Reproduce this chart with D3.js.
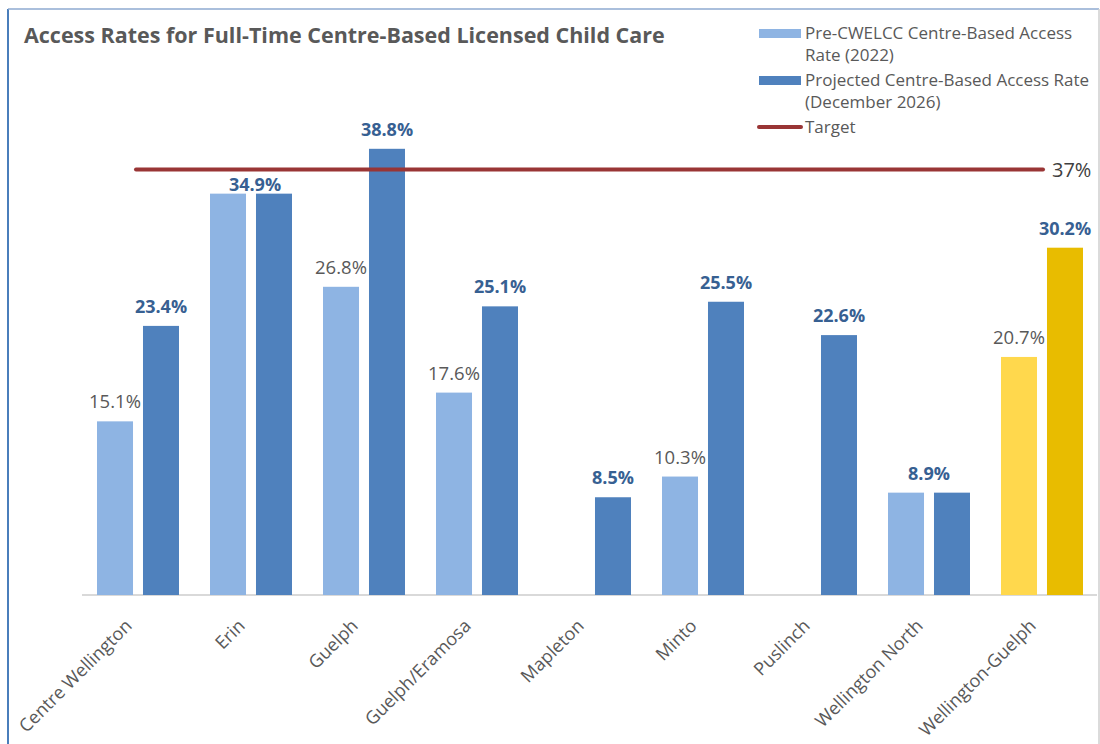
<!DOCTYPE html>
<html>
<head>
<meta charset="utf-8">
<script src="https://cdn.jsdelivr.net/npm/d3@7"></script>
<style>
  html, body { margin: 0; padding: 0; background: #ffffff; }
  svg { display: block; }
</style>
</head>
<body>
<svg id="chart" width="1100" height="744"></svg>
<script>
// ---- data ----
const categories = ["Centre Wellington", "Erin", "Guelph", "Guelph/Eramosa", "Mapleton", "Minto", "Puslinch", "Wellington North", "Wellington-Guelph"];
const preRates = [15.1, 34.9, 26.8, 17.6, null, 10.3, null, 8.9, 20.7];
const projectedRates = [23.4, 34.9, 38.8, 25.1, 8.5, 25.5, 22.6, 8.9, 30.2];
const targetRate = 37;
const highlightCategory = "Wellington-Guelph";
const seriesNames = ["Pre-CWELCC Centre-Based Access Rate (2022)", "Projected Centre-Based Access Rate (December 2026)", "Target"];
const legendLines = [["Pre-CWELCC Centre-Based Access", "Rate (2022)"], ["Projected Centre-Based Access Rate", "(December 2026)"], ["Target"]];
const titleText = "Access Rates for Full-Time Centre-Based Licensed Child Care";

// ---- styles ----
const colors = {
  pre: "#8eb4e3", proj: "#4f81bd",
  preHi: "#ffd84d", projHi: "#e8bc00",
  target: "#993535", text: "#595959", projLabel: "#376092", axis: "#d9d9d9"
};
const FONT = "'Open Sans', sans-serif";

const svg = d3.select("#chart");
const baseY = 595;

// frame
svg.append("line").attr("x1", 8).attr("x2", 8).attr("y1", 9).attr("y2", 744).attr("stroke", "#4a7ebb").attr("stroke-width", 2);
svg.append("line").attr("x1", 8).attr("x2", 1099).attr("y1", 9).attr("y2", 9).attr("stroke", "#8eaad0").attr("stroke-width", 1.5);
svg.append("line").attr("x1", 1099).attr("x2", 1099).attr("y1", 9).attr("y2", 744).attr("stroke", "#cfcfcf").attr("stroke-width", 1.5);

// title (sized to span the same width as the reference)
const title = svg.append("text").attr("x", 24).attr("y", 43)
  .attr("font-family", FONT).attr("font-weight", "bold").attr("font-size", 19)
  .attr("fill", colors.text).text(titleText);
const tw = title.node().getComputedTextLength();
if (tw > 0) title.attr("font-size", 19 * 641 / tw);

// scales
const x = d3.scaleBand().domain(categories).range([81.5, 1098.5]).paddingInner(0).paddingOuter(0);
const x1 = d3.scaleBand().domain(["pre", "proj"]).range([0, x.bandwidth()]).paddingInner(0.217).paddingOuter(0.337);
const y = d3.scaleLinear().domain([0, 40]).range([baseY, 135]);

// axis line
svg.append("line").attr("x1", 82).attr("x2", 1097).attr("y1", baseY).attr("y2", baseY)
  .attr("stroke", colors.axis).attr("stroke-width", 2);

// bars
const rows = categories.map((c, i) => ({ cat: c, pre: preRates[i], proj: projectedRates[i], hi: c === highlightCategory }));
const g = svg.append("g");
rows.forEach(r => {
  const gx = x(r.cat);
  if (r.pre != null) {
    g.append("rect").attr("x", gx + x1("pre")).attr("y", y(r.pre)).attr("width", x1.bandwidth())
      .attr("height", y(0) - y(r.pre)).attr("fill", r.hi ? colors.preHi : colors.pre);
  }
  if (r.proj != null) {
    g.append("rect").attr("x", gx + x1("proj")).attr("y", y(r.proj)).attr("width", x1.bandwidth())
      .attr("height", y(0) - y(r.proj)).attr("fill", r.hi ? colors.projHi : colors.proj);
  }
});

// target line
const tx1 = x(categories[0]) + x.bandwidth() / 2 - 2;
const tx2 = x(categories[categories.length - 1]) + x.bandwidth() / 2 + 1;
svg.append("line").attr("x1", tx1).attr("x2", tx2).attr("y1", y(targetRate)).attr("y2", y(targetRate))
  .attr("stroke", colors.target).attr("stroke-width", 4).attr("stroke-linecap", "round");
svg.append("text").attr("x", tx2 + 9).attr("y", y(targetRate) + 7)
  .attr("font-family", FONT).attr("font-size", 20).attr("fill", "#404040")
  .text(targetRate + "%");

// data labels
const fmt = v => v.toFixed(1) + "%";
const lbl = svg.append("g").attr("font-family", FONT).attr("text-anchor", "middle");
rows.forEach(r => {
  const gx = x(r.cat);
  if (r.pre != null && r.proj != null && r.pre === r.proj) {
    let by = y(r.proj) - 13;
    let off = 0;
    if (by - 13 < y(targetRate) + 4) { by = y(r.proj) - 3; off = 4; }
    lbl.append("text").attr("x", gx + x.bandwidth() / 2 + off).attr("y", by)
      .attr("font-size", 18).attr("font-weight", "bold").attr("fill", colors.projLabel).text(fmt(r.proj));
    return;
  }
  if (r.pre != null) {
    lbl.append("text").attr("x", gx + x1("pre") + x1.bandwidth() / 2).attr("y", y(r.pre) - 13)
      .attr("font-size", 18.5).attr("fill", colors.text).text(fmt(r.pre));
  }
  if (r.proj != null) {
    lbl.append("text").attr("x", gx + x1("proj") + x1.bandwidth() / 2).attr("y", y(r.proj) - 13)
      .attr("font-size", 18).attr("font-weight", "bold").attr("fill", colors.projLabel).text(fmt(r.proj));
  }
});

// x axis labels
const xl = svg.append("g").attr("font-family", FONT).attr("font-size", 18).attr("fill", colors.text);
categories.forEach(c => {
  const cx = x(c) + x.bandwidth() / 2;
  xl.append("text").attr("transform", `translate(${cx - 5},${627}) rotate(-45)`)
    .attr("text-anchor", "end").text(c);
});

// legend
const leg = svg.append("g").attr("font-family", FONT).attr("font-size", 17).attr("fill", colors.text);
const legY = [33, 80, 127];
legendLines.forEach((lines, i) => {
  if (i < 2) {
    leg.append("rect").attr("x", 759).attr("y", legY[i] - 4).attr("width", 42).attr("height", 9)
      .attr("fill", i === 0 ? colors.pre : colors.proj);
  } else {
    leg.append("line").attr("x1", 759).attr("x2", 801).attr("y1", legY[i]).attr("y2", legY[i])
      .attr("stroke", colors.target).attr("stroke-width", 4).attr("stroke-linecap", "round");
  }
  lines.forEach((t, j) => {
    leg.append("text").attr("x", 805).attr("y", legY[i] + 6 + j * 22).text(t);
  });
});
</script>
</body>
</html>
